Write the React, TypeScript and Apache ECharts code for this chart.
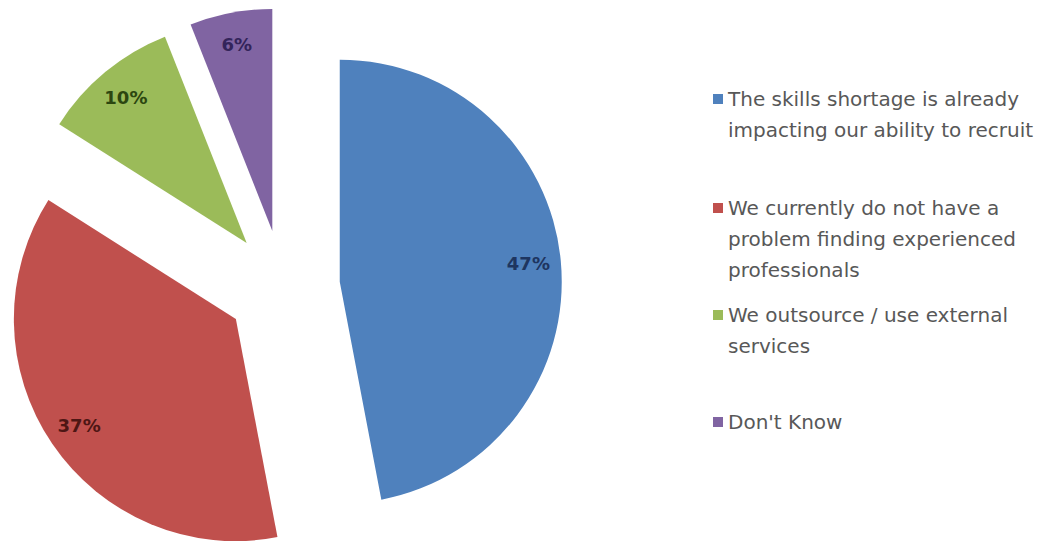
import React, { useEffect, useRef } from "react";
import * as echarts from "echarts";

const categories: string[] = [
  "The skills shortage is already impacting our ability to recruit",
  "We currently do not have a problem finding experienced professionals",
  "We outsource / use external services",
  "Don't Know",
];
const legendLines: string[][] = [
  ["The skills shortage is already", "impacting our ability to recruit"],
  ["We currently do not have a", "problem finding experienced", "professionals"],
  ["We outsource / use external", "services"],
  ["Don't Know"],
];
const values: number[] = [47, 37, 10, 6];
const colors: string[] = ["#4F81BD", "#C0504D", "#9BBB59", "#8064A2"];
const labelColors: string[] = ["#1E3560", "#4E1614", "#2C4610", "#33245A"];
const legendFirstLineY: number[] = [99, 208, 315, 422];

export default function App() {
  const ref = useRef<HTMLDivElement>(null);
  useEffect(() => {
    if (!ref.current) return;
    const chart = echarts.init(ref.current, undefined, { renderer: "svg" });
    const L = 31;
    const center = [283, 287];
    const R = 222;
    const offset = 57;

    const legends = categories.map((name, i) => {
      const n = legendLines[i].length;
      const boxH = (2 * n - 1) * L;
      return {
        show: true,
        orient: "vertical" as const,
        left: 713,
        top: legendFirstLineY[i] - boxH / 2,
        padding: 0,
        itemGap: 0,
        itemWidth: 10,
        itemHeight: 10,
        icon: "rect",
        selectedMode: false,
        data: [name],
        formatter: () => "\n".repeat(n - 1) + legendLines[i].join("\n"),
        textStyle: {
          fontFamily: "DejaVu Sans",
          fontSize: 20,
          color: "#585858",
          lineHeight: L,
        },
      };
    });

    chart.setOption({
      animation: false,
      backgroundColor: "#ffffff",
      legend: legends,
      series: [
        {
          type: "pie",
          center,
          radius: R,
          startAngle: 90,
          clockwise: true,
          selectedMode: "multiple",
          selectedOffset: offset,
          silent: true,
          label: { show: false },
          labelLine: { show: false },
          emphasis: { disabled: true },
          data: categories.map((name, i) => ({
            name,
            value: values[i],
            selected: true,
            itemStyle: { color: colors[i] },
          })),
        },
        {
          type: "pie",
          center,
          radius: [R * 0.68, R],
          startAngle: 90,
          clockwise: true,
          selectedMode: "multiple",
          selectedOffset: offset,
          silent: true,
          legendHoverLink: false,
          emphasis: { disabled: true },
          labelLine: { show: false },
          itemStyle: { color: "rgba(0,0,0,0)" },
          label: {
            show: true,
            position: "inside",
            formatter: "{c}%",
            fontFamily: "DejaVu Sans",
            fontWeight: "bold",
            fontSize: 18,
          },
          data: categories.map((name, i) => ({
            name: name + " ",
            value: values[i],
            selected: true,
            label: { color: labelColors[i] },
          })),
        },
      ],
    });
    return () => chart.dispose();
  }, []);
  return (
    <div
      ref={ref}
      style={{ position: "absolute", left: 0, top: 0, width: 1050, height: 544 }}
    />
  );
}
